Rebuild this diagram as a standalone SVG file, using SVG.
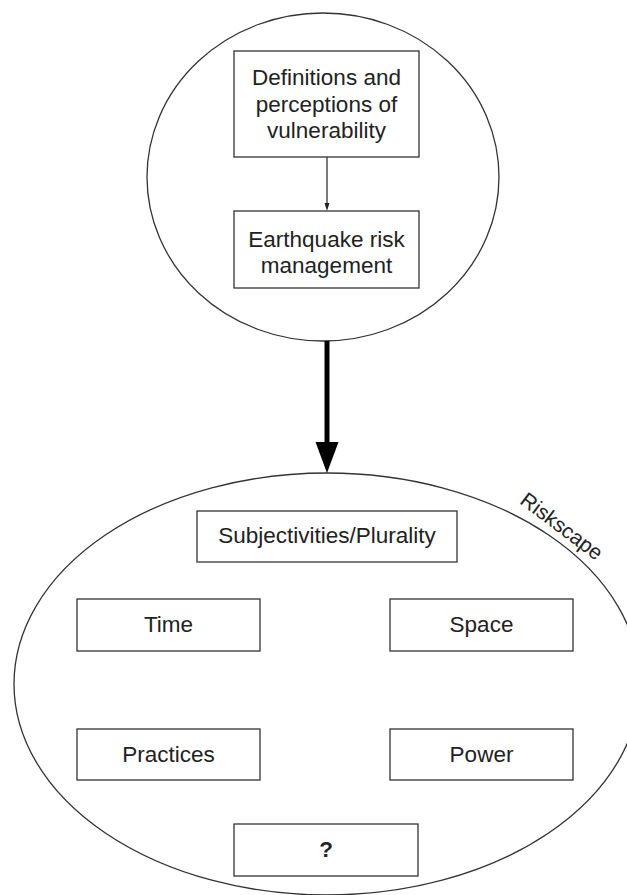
<svg xmlns="http://www.w3.org/2000/svg" width="627" height="895" viewBox="0 0 627 895">
<style>
.box{fill:#fff;stroke:#333;stroke-width:1.3}
.ell{fill:#fff;stroke:#333;stroke-width:1.3}
.t{font-family:"Liberation Sans",Arial,sans-serif;font-size:22.5px;fill:#222;text-anchor:middle}
</style>
<rect width="627" height="895" fill="#fff"/>
<g id="top-circle">
<ellipse class="ell" cx="323" cy="177" rx="176" ry="164"/>
</g>
<g id="riskscape">
<ellipse class="ell" cx="327" cy="684" rx="313" ry="211"/>
<text class="t" transform="translate(562,526) rotate(37)" dominant-baseline="central" style="font-size:21px">Riskscape</text>
</g>
<g id="connectors">
<line x1="327" y1="157" x2="327" y2="204" stroke="#222" stroke-width="1.2"/>
<path d="M324.5,203 L329.5,203 L327,211 Z" fill="#222"/>
<line x1="327" y1="341" x2="327" y2="446" stroke="#000" stroke-width="5"/>
<path d="M315.5,442 L338.5,442 L327,473 Z" fill="#000"/>
</g>
<g id="n-definitions">
<rect class="box" x="234" y="51" width="185" height="106"/>
<text class="t" x="326.5" y="85">Definitions and</text>
<text class="t" x="326.5" y="112">perceptions of</text>
<text class="t" x="326.5" y="138">vulnerability</text>
</g>
<g id="n-earthquake">
<rect class="box" x="234" y="211" width="185" height="77"/>
<text class="t" x="326.5" y="247">Earthquake risk</text>
<text class="t" x="326.5" y="273">management</text>
</g>
<g id="n-subjectivities">
<rect class="box" x="197" y="511" width="260" height="51"/>
<text class="t" x="327" y="543">Subjectivities/Plurality</text>
</g>
<g id="n-time">
<rect class="box" x="77" y="599" width="183" height="52"/>
<text class="t" x="168.5" y="632">Time</text>
</g>
<g id="n-space">
<rect class="box" x="390" y="599" width="183" height="52"/>
<text class="t" x="481.5" y="632">Space</text>
</g>
<g id="n-practices">
<rect class="box" x="77" y="729" width="183" height="51"/>
<text class="t" x="168.5" y="762">Practices</text>
</g>
<g id="n-power">
<rect class="box" x="390" y="729" width="183" height="51"/>
<text class="t" x="481.5" y="762">Power</text>
</g>
<g id="n-unknown">
<rect class="box" x="234" y="824" width="184" height="52"/>
<text class="t" x="326" y="857" style="font-weight:bold">?</text>
</g>
</svg>
